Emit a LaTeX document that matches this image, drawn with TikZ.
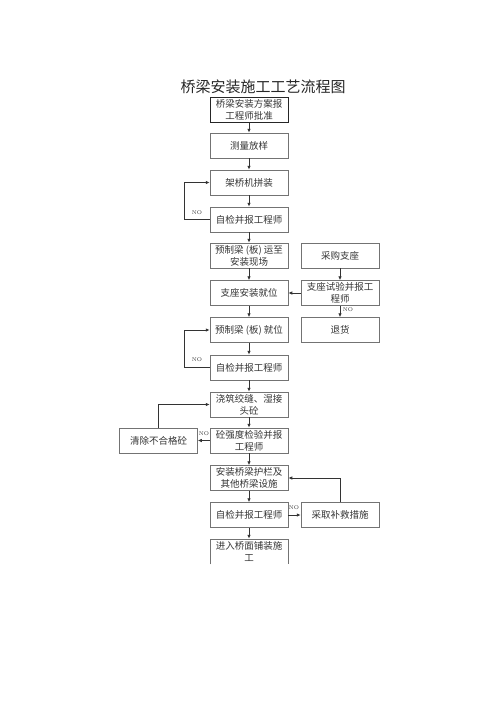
\documentclass[tikz,border=0pt]{standalone}
\usepackage{fontspec}
\newfontfamily\cjk{Noto Sans CJK SC}
\usetikzlibrary{arrows.meta}
\tikzset{procbox/.style={draw=black!55, line width=0.5pt, minimum width=78pt,
        minimum height=25pt, inner sep=0pt, align=center, text=black!80,
        font=\cjk\fontsize{9.5}{12}\selectfont},
    flow/.style={draw=black!80, line width=0.8pt, -{Latex[length=4pt,width=3.5pt]}},
    nolabel/.style={font=\fontsize{5.5}{6}\selectfont, text=black!80, inner sep=0pt},
    }

\begin{document}
\begin{tikzpicture}[x=1pt,y=-1pt]
\useasboundingbox (0,0) rectangle (500,707);
\node[font=\cjk\fontsize{15}{18}\selectfont, text=black!85] (title) at (263,87) {桥梁安装施工工艺流程图};
% main column
\node[procbox, draw=black!85, line width=1pt] (plan) at (249,109.5) {桥梁安装方案报\\工程师批准};
\node[procbox] (survey) at (249,145.5) {测量放样};
\node[procbox] (erect) at (249,182.5) {架桥机拼装};
\node[procbox] (checkA) at (249,219.5) {自检并报工程师};
\node[procbox] (haul) at (249,255.5) {预制梁 (板) 运至\\安装现场};
\node[procbox] (bearing) at (249,293) {支座安装就位};
\node[procbox] (place) at (249,330) {预制梁 (板) 就位};
\node[procbox] (checkB) at (249,367.5) {自检并报工程师};
\node[procbox] (pour) at (249,404.5) {浇筑绞缝、湿接\\头砼};
\node[procbox] (strength) at (249,440.5) {砼强度检验并报\\工程师};
\node[procbox] (rail) at (249,478) {安装桥梁护栏及\\其他桥梁设施};
\node[procbox] (checkC) at (249,515) {自检并报工程师};
\node[procbox, draw=none] (deck) at (249,551.5) {进入桥面铺装施\\工};
\draw[black!55, line width=0.5pt] (deck.south west) -- (deck.north west) -- (deck.north east) -- (deck.south east);
% side boxes
\node[procbox] (buy) at (340,255.5) {采购支座};
\node[procbox] (test) at (340,293) {支座试验并报工\\程师};
\node[procbox] (reject) at (340,330) {退货};
\node[procbox] (remove) at (158.5,440.5) {清除不合格砼};
\node[procbox] (remedy) at (340,515) {采取补救措施};
% flow
\draw[flow] (plan) -- (survey);
\draw[flow] (survey) -- (erect);
\draw[flow] (erect) -- (checkA);
\draw[flow] (checkA) -- (haul);
\draw[flow] (haul) -- (bearing);
\draw[flow] (bearing) -- (place);
\draw[flow] (place) -- (checkB);
\draw[flow] (checkB) -- (pour);
\draw[flow] (pour) -- (strength);
\draw[flow] (strength) -- (rail);
\draw[flow] (rail) -- (checkC);
\draw[flow] (checkC) -- (deck);
\draw[flow] (buy) -- (test);
\draw[flow] (test) -- (bearing);
\draw[flow] (test) -- (reject);
% NO loops
\draw[flow] (checkA.west) -- ++(-25,0) |- (erect.west);
\node[nolabel] (noA) at (197,213) {NO};
\draw[flow] (checkB.west) -- ++(-25,0) |- (place.west);
\node[nolabel] (noB) at (197,360) {NO};
\node[nolabel] (noT) at (348,310) {NO};
\draw[flow] (strength) -- (remove);
\node[nolabel] (noS) at (204,434) {NO};
\draw[flow] (remove.north) |- (pour.west);
\draw[flow] (checkC) -- (remedy);
\node[nolabel] (noC) at (294,508) {NO};
\draw[flow] (remedy.north) |- (rail.east);
\end{tikzpicture}
\end{document}
